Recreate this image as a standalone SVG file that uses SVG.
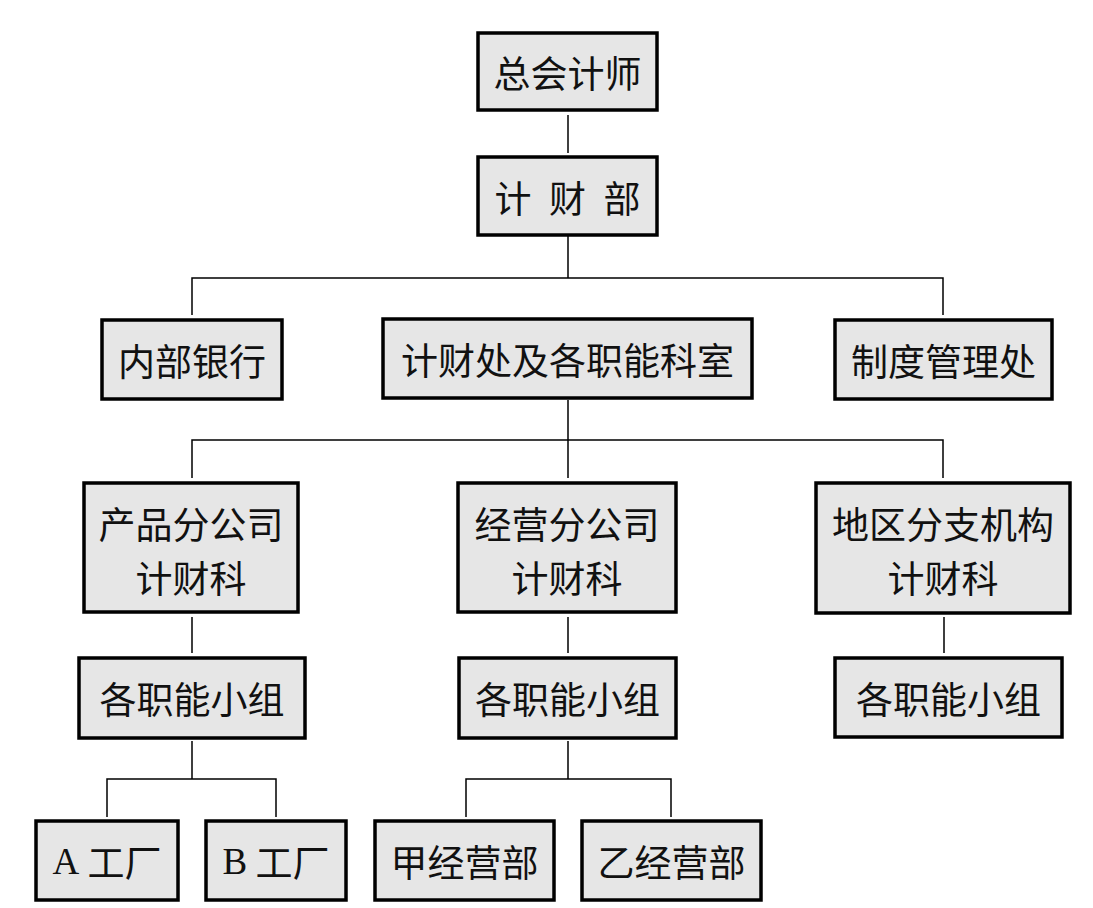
<svg xmlns="http://www.w3.org/2000/svg" width="1093" height="908" viewBox="0 0 1093 908">
<style>
.box{fill:#e6e6e6;stroke:#000;stroke-width:3.5}
.t{font-family:"Noto Sans CJK SC","Liberation Serif",serif;font-size:37px;fill:#111;text-anchor:middle;dominant-baseline:central}
.lat{font-family:"Liberation Serif",serif}
.c{fill:none;stroke:#000;stroke-width:1.5}
</style>
<rect width="1093" height="908" fill="#fff"/>
<g id="connectors">
<path class="c" d="M568 115V153"/>
<path class="c" d="M568 236V278M192 315V278H943V315"/>
<path class="c" d="M568 400V440M192 478V440H943V478M568 440V478"/>
<path class="c" d="M192 617V653M568 617V653M944 617V653"/>
<path class="c" d="M192 741V779M107 817V779H276V817"/>
<path class="c" d="M568 741V779M466 817V779H671V817"/>
</g>
<g id="n1"><rect class="box" x="478" y="33" width="179" height="77"/><text class="t" x="567.5" y="72">总会计师</text></g>
<g id="n2"><rect class="box" x="478" y="157" width="179" height="78"/><text class="t" x="513 567.5 622" y="197">计财部</text></g>
<g id="n3"><rect class="box" x="102" y="320" width="180" height="79"/><text class="t" x="192" y="360">内部银行</text></g>
<g id="n4"><rect class="box" x="383" y="319" width="369" height="79"/><text class="t" x="567.5" y="359">计财处及各职能科室</text></g>
<g id="n5"><rect class="box" x="835" y="320" width="217" height="79"/><text class="t" x="943.5" y="360">制度管理处</text></g>
<g id="n6"><rect class="box" x="84" y="483" width="214" height="129"/><text class="t" x="191" y="523">产品分公司</text><text class="t" x="191" y="577">计财科</text></g>
<g id="n7"><rect class="box" x="458" y="483" width="218" height="129"/><text class="t" x="567" y="523">经营分公司</text><text class="t" x="567" y="577">计财科</text></g>
<g id="n8"><rect class="box" x="816" y="483" width="254" height="130"/><text class="t" x="943" y="523">地区分支机构</text><text class="t" x="943" y="577">计财科</text></g>
<g id="n9"><rect class="box" x="79" y="658" width="226" height="80"/><text class="t" x="192" y="698">各职能小组</text></g>
<g id="n10"><rect class="box" x="459" y="658" width="217" height="80"/><text class="t" x="567.5" y="698">各职能小组</text></g>
<g id="n11"><rect class="box" x="835" y="658" width="227" height="79"/><text class="t" x="948.5" y="698">各职能小组</text></g>
<g id="n12"><rect class="box" x="36" y="821" width="142" height="79"/><text class="t" x="107" y="861"><tspan class="lat">A</tspan> 工厂</text></g>
<g id="n13"><rect class="box" x="206" y="821" width="140" height="79"/><text class="t" x="276" y="861"><tspan class="lat">B</tspan> 工厂</text></g>
<g id="n14"><rect class="box" x="375" y="821" width="179" height="79"/><text class="t" x="464.5" y="861">甲经营部</text></g>
<g id="n15"><rect class="box" x="582" y="821" width="179" height="79"/><text class="t" x="671.5" y="861">乙经营部</text></g>
</svg>
